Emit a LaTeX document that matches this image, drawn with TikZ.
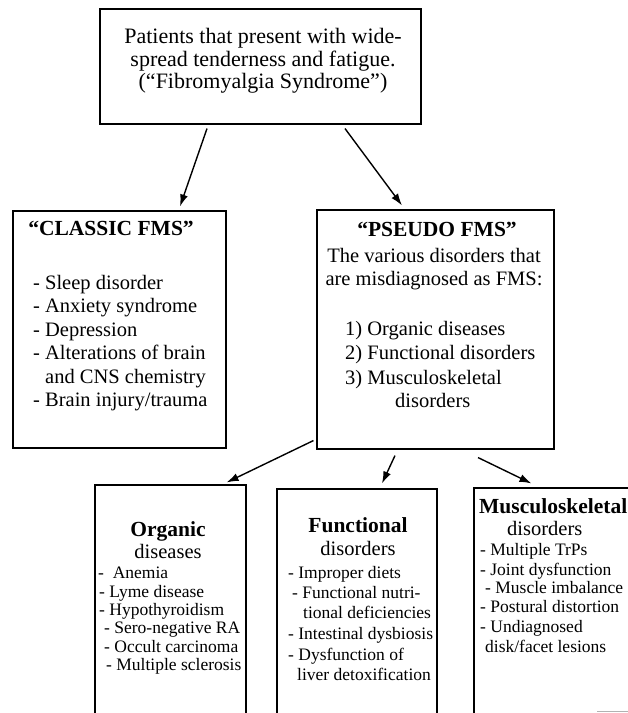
\documentclass[tikz,border=0pt]{standalone}
\usepackage{fontspec}
\setmainfont{Liberation Serif}
\usetikzlibrary{arrows.meta}
\tikzset{
  box/.style={draw, line width=1.1pt, inner sep=0pt, fill=none},
  arr/.style={line width=1.4pt, -{Latex[length=12pt,width=8pt]}},
  line/.style={inner sep=0pt, text height=0.68em, text depth=0.22em, anchor=west},
  ctr/.style={inner sep=0pt, text height=0.68em, text depth=0.22em, anchor=center},
  big/.style={font=\fontsize{20.5}{23}\selectfont},
  head/.style={font=\fontsize{21.5}{23}\selectfont\bfseries},
  small/.style={font=\fontsize{17.5}{19}\selectfont},
}
\begin{document}
\begin{tikzpicture}[x=1pt,y=-1pt]
\useasboundingbox (0,0) rectangle (628,713);
\clip (0,0) rectangle (628,713);
\fill[white] (0,0) rectangle (628,713);

% boxes
\node[box, minimum width=321pt, minimum height=115pt] (top) at (260.5,66.5) {};
\node[box, minimum width=213pt, minimum height=237pt] (classic) at (119.5,329.5) {};
\node[box, minimum width=237pt, minimum height=239pt] (pseudo) at (435.5,329.5) {};
\node[box, minimum width=151pt, minimum height=250pt] (organic) at (170.5,610) {};
\node[box, minimum width=160pt, minimum height=250pt] (functional) at (357,614) {};
\node[box, minimum width=180pt, minimum height=250pt] (musculo) at (564,613) {};

% top text
\node[align=center, inner sep=0pt, font=\fontsize{22}{22.5}\selectfont] (toptext) at (263,61)
  {Patients that present with wide-\\spread tenderness and fatigue.\\(``Fibromyalgia Syndrome'')};

% classic
\node[ctr, head] (ch) at (111,233) {``CLASSIC FMS''};
\node[line, big] (c1) at (33,287) {- Sleep disorder};
\node[line, big] (c2) at (33,310.5) {- Anxiety syndrome};
\node[line, big] (c3) at (33,334) {- Depression};
\node[line, big] (c4) at (33,357.5) {- Alterations of brain};
\node[line, big] (c5) at (45,381) {and CNS chemistry};
\node[line, big] (c6) at (33,404.5) {- Brain injury/trauma};

% pseudo
\node[ctr, head] (ph) at (437,234) {``PSEUDO FMS''};
\node[ctr, big] (p1) at (434,260) {The various disorders that};
\node[ctr, big] (p2) at (434,283) {are misdiagnosed as FMS:};
\node[line, big] (p3) at (345,333) {1) Organic diseases};
\node[line, big] (p4) at (345,357) {2) Functional disorders};
\node[line, big] (p5) at (345,382) {3) Musculoskeletal};
\node[line, big] (p6) at (395,405) {disorders};

% organic
\node[ctr, head] (oh) at (168,534) {Organic};
\node[ctr, big] (oh2) at (168,556) {diseases};
\node[line, small] (o1) at (98,576) {-\ \ Anemia};
\node[line, small] (o2) at (99,595) {- Lyme disease};
\node[line, small] (o3) at (99,613) {- Hypothyroidism};
\node[line, small] (o4) at (104,631) {- Sero-negative RA};
\node[line, small] (o5) at (104,650) {- Occult carcinoma};
\node[line, small] (o6) at (106,668) {- Multiple sclerosis};

% functional
\node[ctr, head] (fh) at (358,530) {Functional};
\node[ctr, big] (fh2) at (358,553) {disorders};
\node[line, small] (f1) at (288,576) {- Improper diets};
\node[line, small] (f2) at (292,596) {- Functional nutri-};
\node[line, small] (f3) at (303,616) {tional deficiencies};
\node[line, small] (f4) at (288,637) {- Intestinal dysbiosis};
\node[line, small] (f5) at (288,658) {- Dysfunction of};
\node[line, small] (f6) at (297,678) {liver detoxification};

% musculoskeletal
\node[line, head] (mh) at (479,511) {Musculoskeletal};
\node[line, big] (mh2) at (507,533) {disorders};
\node[line, small] (m1) at (480,553) {- Multiple TrPs};
\node[line, small] (m2) at (480,573) {- Joint dysfunction};
\node[line, small] (m3) at (485,591) {- Muscle imbalance};
\node[line, small] (m4) at (480,610) {- Postural distortion};
\node[line, small] (m5) at (480,630) {- Undiagnosed};
\node[line, small] (m6) at (485,650) {disk/facet lesions};

% arrows
\draw[arr] ([xshift=-53.5pt,yshift=-4pt]top.south) -- ([xshift=60.5pt,yshift=4pt]classic.north);
\draw[arr] ([xshift=84.5pt,yshift=-4pt]top.south) -- ([xshift=-33.5pt,yshift=4pt]pseudo.north);
\draw[arr] ([xshift=-3pt,yshift=9pt]pseudo.south west) -- ([xshift=-20pt,yshift=2pt]organic.north east);
\draw[arr] ([xshift=-40.5pt,yshift=-6pt]pseudo.south) -- ([xshift=25pt,yshift=5pt]functional.north);
\draw[arr] ([xshift=42.5pt,yshift=-8pt]pseudo.south) -- ([xshift=58pt,yshift=4pt]musculo.north west);

% scan mark at lower right
\coordinate (s1) at (597,711);
\coordinate (s2) at (628,711);
\draw[gray!60, line width=0.8pt] (s1) -- (s2);
\end{tikzpicture}
\end{document}
